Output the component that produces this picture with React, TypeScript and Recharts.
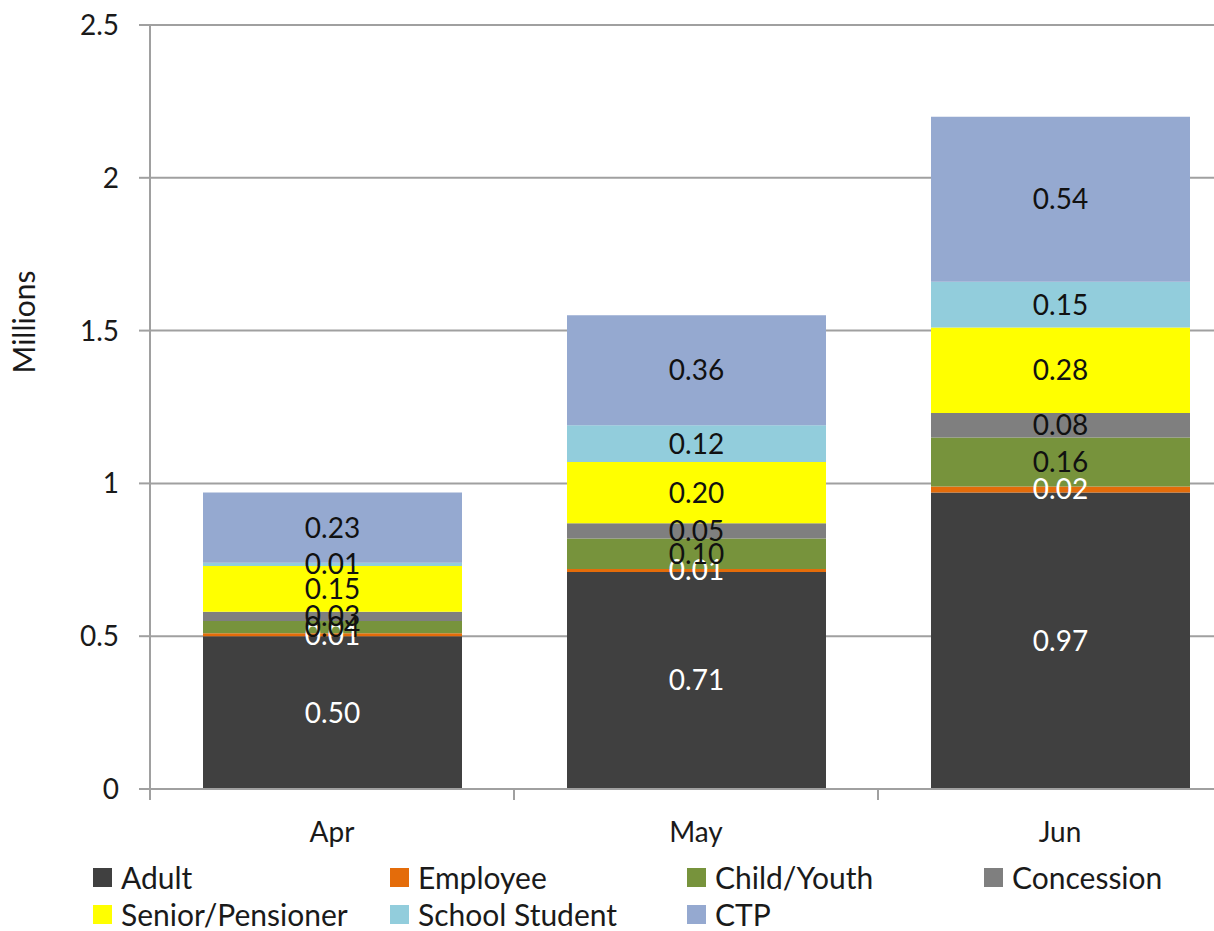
import React from 'react';
import { BarChart, Bar, XAxis, YAxis, CartesianGrid, Legend, LabelList } from 'recharts';

const months = ['Apr', 'May', 'Jun'];
const adult = [0.5, 0.71, 0.97];
const employee = [0.01, 0.01, 0.02];
const childYouth = [0.04, 0.1, 0.16];
const concession = [0.03, 0.05, 0.08];
const seniorPensioner = [0.15, 0.2, 0.28];
const schoolStudent = [0.01, 0.12, 0.15];
const ctp = [0.23, 0.36, 0.54];
const yTicks = [0, 0.5, 1, 1.5, 2, 2.5];

const SERIES = [
  { key: 'adult', name: 'Adult', values: adult, color: '#404040', text: '#ffffff' },
  { key: 'employee', name: 'Employee', values: employee, color: '#e46c0a', text: '#ffffff' },
  { key: 'child', name: 'Child/Youth', values: childYouth, color: '#77933c', text: '#111111' },
  { key: 'concession', name: 'Concession', values: concession, color: '#7f7f7f', text: '#111111' },
  { key: 'senior', name: 'Senior/Pensioner', values: seniorPensioner, color: '#ffff00', text: '#111111' },
  { key: 'school', name: 'School Student', values: schoolStudent, color: '#92cddc', text: '#111111' },
  { key: 'ctp', name: 'CTP', values: ctp, color: '#95a9d0', text: '#111111' },
];

const data = months.map((month, i) => {
  const row: Record<string, string | number> = { month };
  SERIES.forEach((s) => {
    row[s.key] = s.values[i];
  });
  return row;
});

const FONT = 'Lato, "Open Sans", sans-serif';
const BAND = 364;

const MonthTick = (props: any) => {
  const { x, y, payload } = props;
  const lineTop = y - 33;
  return (
    <g>
      <line x1={x - BAND / 2} y1={lineTop} x2={x - BAND / 2} y2={lineTop + 11} stroke="#a0a0a0" strokeWidth={2} />
      <text x={x} y={y} dy="0.71em" textAnchor="middle" fill="#1a1a1a" fontSize={28} fontFamily={FONT}>
        {payload.value}
      </text>
    </g>
  );
};

const LegendGrid = () => (
  <div
    style={{
      display: 'grid',
      gridTemplateColumns: '297px 297px 297px auto',
      gridTemplateRows: '40px 34px',
      paddingLeft: 93,
      paddingTop: 12,
      fontFamily: FONT,
      fontSize: 30,
      lineHeight: '30px',
      color: '#1a1a1a',
    }}
  >
    {SERIES.map((s) => (
      <div key={s.key} style={{ display: 'flex', alignItems: 'center' }}>
        <span style={{ width: 19, height: 19, background: s.color, marginRight: 9, display: 'inline-block' }} />
        <span>{s.name}</span>
      </div>
    ))}
  </div>
);

const App: React.FC = () => {
  return (
    <div style={{ position: 'absolute', left: 0, top: 0, width: 1214, height: 931, overflow: 'hidden', background: '#fff' }}>
      <BarChart
        width={1250}
        height={931}
        data={data}
        margin={{ top: 25, right: 8, left: 0, bottom: 0 }}
        barSize={259}
      >
        <CartesianGrid vertical={false} stroke="#a0a0a0" strokeWidth={2} />
        <XAxis
          dataKey="month"
          height={56}
          axisLine={{ stroke: '#a0a0a0', strokeWidth: 2 }}
          tickLine={false}
          tickSize={10}
          tickMargin={23}
          tick={<MonthTick />}
        />
        <YAxis
          width={150}
          domain={[0, 2.5]}
          ticks={yTicks}
          tickFormatter={(v: number) => String(v)}
          axisLine={{ stroke: '#a0a0a0', strokeWidth: 2 }}
          tickLine={{ stroke: '#a0a0a0', strokeWidth: 2 }}
          tickSize={11}
          tickMargin={20}
          tick={{ fill: '#1a1a1a', fontSize: 28, fontFamily: FONT }}
          label={{
            content: () => (
              <text x={27} y={322} transform="rotate(-90 27 322)" textAnchor="middle" dominantBaseline="middle" fill="#1a1a1a" fontSize={30} fontFamily={FONT}>
                Millions
              </text>
            ),
          }}
        />
        <Legend verticalAlign="bottom" height={86} wrapperStyle={{ left: 0, width: 1250 }} content={<LegendGrid />} />
        {SERIES.map((s) => (
          <Bar key={s.key} dataKey={s.key} name={s.name} stackId="a" fill={s.color} isAnimationActive={false}>
            <LabelList
              dataKey={s.key}
              position="center"
              formatter={(v: any) => Number(v).toFixed(2)}
              fill={s.text}
              fontSize={28}
              fontFamily={FONT}
            />
          </Bar>
        ))}
      </BarChart>
    </div>
  );
};

export default App;
